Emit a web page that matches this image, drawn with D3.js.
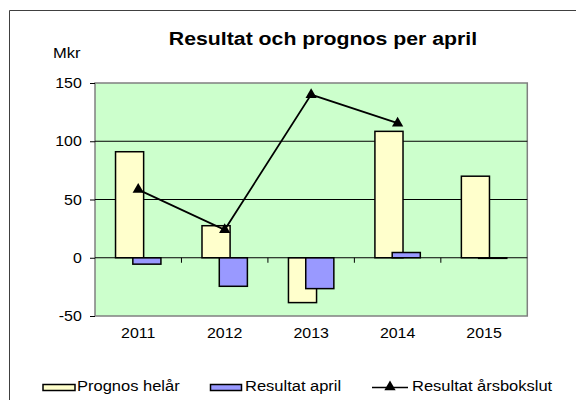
<!DOCTYPE html>
<html><head><meta charset="utf-8">
<script src="https://cdn.jsdelivr.net/npm/d3@7"></script>
<style>body{margin:0;background:#fff}svg{display:block;font-family:"Liberation Sans",Arial,sans-serif}</style>
</head><body><svg id="c" width="576" height="400"></svg>
<script>
const categories = ["2011","2012","2013","2014","2015"];
const prognos = [91, 27.5, -38.5, 108.5, 70];
const resultatApril = [-5.5, -24.5, -26.5, 4.5, -0.5];
const arsbokslut = [58.5, 24, 140, 115.5, null];
const yTicks = [-50, 0, 50, 100, 150];
const seriesNames = ["Prognos helår", "Resultat april", "Resultat årsbokslut"];

const svg = d3.select("#c");
const m = {l:95, t:83, r:527.3, b:316};
const SX = 1.1;

// outer frame
svg.append("path").attr("d","M9.5,400V10.5H576").attr("fill","none").attr("stroke","#404040").attr("stroke-width",1);

const x = d3.scaleBand().domain(categories).range([m.l, m.r]);
const y = d3.scaleLinear().domain([-50,150]).range([m.b, m.t]);

svg.append("rect").attr("x",m.l).attr("y",m.t).attr("width",m.r-m.l).attr("height",m.b-m.t)
  .attr("fill","#CCFFCC").attr("stroke","#808080").attr("stroke-width",1.5);

// gridlines
svg.append("g").selectAll("line").data([50,100]).join("line")
  .attr("x1",m.l).attr("x2",m.r).attr("y1",d=>y(d)).attr("y2",d=>y(d))
  .attr("stroke","#000").attr("stroke-width",1);

// y axis
const ya = svg.append("g").attr("transform",`translate(${m.l},0)`)
  .call(d3.axisLeft(y).tickValues(yTicks).tickFormat(d=>String(d)).tickSize(5).tickPadding(7));
ya.select(".domain").remove();
ya.selectAll("line").attr("stroke","#000");
ya.selectAll("text").attr("font-size","14.5px").attr("fill","#000").attr("font-family","Liberation Sans, Arial")
  .attr("transform",`scale(${SX},1)`);

// x axis labels
const xa = svg.append("g").attr("transform",`translate(0,${m.b})`)
  .call(d3.axisBottom(x).tickSize(0).tickPadding(12));
xa.select(".domain").remove();
xa.selectAll("text").attr("font-size","14.5px").attr("fill","#000").attr("font-family","Liberation Sans, Arial")
  .attr("transform",`scale(${SX},1)`);

const bw = x.bandwidth()*0.325;
const off = x.bandwidth()*0.1;
const cx = d => x(d)+x.bandwidth()/2;

// bars
svg.append("g").selectAll("rect").data(categories).join("rect")
  .attr("x",(d)=>cx(d)-off-bw/2)
  .attr("y",(d,i)=>y(Math.max(0,prognos[i])))
  .attr("width",bw)
  .attr("height",(d,i)=>Math.abs(y(prognos[i])-y(0)))
  .attr("fill","#FFFFCC").attr("stroke","#000").attr("stroke-width",1.5);
svg.append("g").selectAll("rect").data(categories).join("rect")
  .attr("x",(d)=>cx(d)+off-bw/2)
  .attr("y",(d,i)=>y(Math.max(0,resultatApril[i])))
  .attr("width",bw)
  .attr("height",(d,i)=>Math.abs(y(resultatApril[i])-y(0)))
  .attr("fill","#9999FF").attr("stroke","#000").attr("stroke-width",1.5);

// zero line and category ticks
svg.append("line").attr("x1",m.l).attr("x2",m.r).attr("y1",y(0)).attr("y2",y(0)).attr("stroke","#000").attr("stroke-width",1);
svg.append("g").selectAll("line").data(categories.slice(1)).join("line")
  .attr("x1",d=>x(d)).attr("x2",d=>x(d)).attr("y1",y(0)).attr("y2",y(0)+5)
  .attr("stroke","#000").attr("stroke-width",1);

// line series
const pts = categories.map((c,i)=>({c, v:arsbokslut[i]})).filter(p=>p.v!=null);
svg.append("path").datum(pts)
  .attr("d",d3.line().x(p=>cx(p.c)).y(p=>y(p.v)))
  .attr("fill","none").attr("stroke","#000").attr("stroke-width",1.75);
const tri = d3.symbol().type(d3.symbolTriangle).size(55);
svg.append("g").selectAll("path").data(pts).join("path")
  .attr("d",tri).attr("transform",p=>`translate(${cx(p.c)},${y(p.v)})`).attr("fill","#000");

// helper for horizontally-stretched text
function txt(xp, yp, s, size, opts={}) {
  const t = svg.append("text").attr("transform",`translate(${xp},${yp}) scale(${opts.sx||SX},1)`)
    .attr("font-size",size).text(s);
  if (opts.anchor) t.attr("text-anchor",opts.anchor);
  if (opts.bold) t.attr("font-weight","bold");
  return t;
}
txt(323, 45, "Resultat och prognos per april", "19px", {anchor:"middle", bold:true, sx:1.12});
txt(53, 58, "Mkr", "15px");

// legend
svg.append("rect").attr("x",43).attr("y",384.5).attr("width",32).attr("height",6).attr("fill","#FFFFCC").attr("stroke","#000").attr("stroke-width",1.5);
txt(77, 391, seriesNames[0], "15px");
svg.append("rect").attr("x",210.5).attr("y",384.5).attr("width",31).attr("height",6).attr("fill","#9999FF").attr("stroke","#000").attr("stroke-width",1.5);
txt(245, 391, seriesNames[1], "15px");
svg.append("line").attr("x1",372).attr("x2",408).attr("y1",387.5).attr("y2",387.5).attr("stroke","#000").attr("stroke-width",1.5);
svg.append("path").attr("d",tri).attr("transform","translate(390,387)").attr("fill","#000");
txt(412, 391, seriesNames[2], "15px");
</script></body></html>
